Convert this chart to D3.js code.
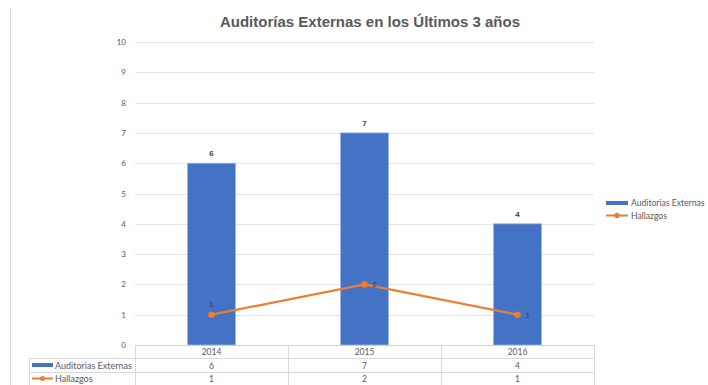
<!DOCTYPE html>
<html><head><meta charset="utf-8">
<script src="https://cdn.jsdelivr.net/npm/d3@7"></script>
<style>body{margin:0;background:#fff;}svg{display:block;font-family:"Liberation Sans",Arial,sans-serif;}</style>
</head><body>
<svg id="c" width="708" height="385"></svg>
<script>
const categories = ["2014", "2015", "2016"];
const auditorias = [6, 7, 4];
const hallazgos = [1, 2, 1];
const yTicks = [0,1,2,3,4,5,6,7,8,9,10];
const seriesNames = ["Auditorias Externas", "Hallazgos"];
const title = "Auditorías Externas en los Últimos 3 años";

const svg = d3.select("#c");
const L = 135, R = 594, T = 42, B = 345;
const x = d3.scaleBand().domain(categories).range([L, R]).padding(0);
const y = d3.scaleLinear().domain([0, 10]).range([B, T]);
const blue = "#4472C4", orange = "#ED7D31", grid = "#d9d9d9", txt = "#595959";
const tableFont = "Lato, 'Open Sans', sans-serif";

// left border line
svg.append("line").attr("x1",10.5).attr("x2",10.5).attr("y1",8).attr("y2",385).attr("stroke",grid);

// title
svg.append("text").attr("x",370).attr("y",27).attr("text-anchor","middle")
  .attr("font-size",15).attr("font-weight","bold").attr("fill","#595959").text(title);

// gridlines
svg.append("g").selectAll("line").data(yTicks.filter(d=>d>0)).join("line")
  .attr("x1",L).attr("x2",R).attr("y1",d=>Math.round(y(d))+0.5).attr("y2",d=>Math.round(y(d))+0.5)
  .attr("stroke","#e3e3e3").attr("stroke-width",1.2);

// y axis labels
const yAxis = d3.axisLeft(y).tickValues(yTicks).tickSize(0).tickPadding(0);
const ya = svg.append("g").attr("transform",`translate(126,0)`).call(yAxis);
ya.select(".domain").remove();
ya.selectAll("text").attr("font-size",8).attr("fill",txt).attr("font-family",tableFont);

// bars
const bw = x.bandwidth()*0.314;
svg.append("g").selectAll("rect").data(auditorias).join("rect")
  .attr("x",(d,i)=>x(categories[i])+x.bandwidth()/2-bw/2)
  .attr("y",d=>y(d)).attr("width",bw).attr("height",d=>B-y(d))
  .attr("fill",blue).attr("stroke","#9db5e3").attr("stroke-width",0.8);

// bar labels
svg.append("g").selectAll("text").data(auditorias).join("text")
  .attr("x",(d,i)=>x(categories[i])+x.bandwidth()/2)
  .attr("y",d=>y(d)-7).attr("text-anchor","middle")
  .attr("font-size",8).attr("font-weight","bold").attr("fill","#404040").text(d=>d);

// line
const cx = i => x(categories[i])+x.bandwidth()/2;
svg.append("path").datum(hallazgos)
  .attr("d", d3.line().x((d,i)=>cx(i)).y(d=>y(d)))
  .attr("fill","none").attr("stroke",orange).attr("stroke-width",2.2);
svg.append("g").selectAll("circle").data(hallazgos).join("circle")
  .attr("cx",(d,i)=>cx(i)).attr("cy",d=>y(d)).attr("r",3.3).attr("fill",orange);
svg.append("g").selectAll("text").data(hallazgos).join("text")
  .attr("x",(d,i)=> i===0 ? cx(i) : cx(i)+8)
  .attr("y",(d,i)=> i===0 ? y(d)-8 : y(d)+3)
  .attr("text-anchor",(d,i)=> i===0 ? "middle" : "start")
  .attr("font-size",8).attr("fill","#404040").text(d=>d);

// data table
const tg = svg.append("g").attr("stroke",grid).attr("stroke-width",1);
tg.append("line").attr("x1",L).attr("x2",R).attr("y1",345.5).attr("y2",345.5).attr("stroke","#d0d0d0");
[358.5, 372.5].forEach(yy=>tg.append("line").attr("x1",29).attr("x2",R).attr("y1",yy).attr("y2",yy));
tg.append("line").attr("x1",29.5).attr("x2",29.5).attr("y1",358.5).attr("y2",385);
[L, x("2015"), x("2016"), R].forEach(xx=>tg.append("line").attr("x1",Math.round(xx)+0.5).attr("x2",Math.round(xx)+0.5).attr("y1",345).attr("y2",385));

svg.append("g").selectAll("text").data(categories).join("text")
  .attr("x",d=>x(d)+x.bandwidth()/2).attr("y",355).attr("text-anchor","middle")
  .attr("font-size",8.5).attr("fill",txt).attr("font-family",tableFont).text(d=>d);
svg.append("g").selectAll("text").data(auditorias).join("text")
  .attr("x",(d,i)=>cx(i)).attr("y",368.5).attr("text-anchor","middle")
  .attr("font-size",8.5).attr("fill",txt).attr("font-family",tableFont).text(d=>d);
svg.append("g").selectAll("text").data(hallazgos).join("text")
  .attr("x",(d,i)=>cx(i)).attr("y",382).attr("text-anchor","middle")
  .attr("font-size",8.5).attr("fill",txt).attr("font-family",tableFont).text(d=>d);
svg.append("rect").attr("x",32).attr("y",363).attr("width",21).attr("height",4).attr("fill",blue);
svg.append("text").attr("x",55).attr("y",368.5).attr("font-size",9).attr("fill",txt).attr("font-family",tableFont).text(seriesNames[0]);
svg.append("line").attr("x1",32).attr("x2",53).attr("y1",378.5).attr("y2",378.5).attr("stroke",orange).attr("stroke-width",2);
svg.append("circle").attr("cx",42.5).attr("cy",378.5).attr("r",2.5).attr("fill",orange);
svg.append("text").attr("x",55).attr("y",382).attr("font-size",9).attr("fill",txt).attr("font-family",tableFont).text(seriesNames[1]);

// right legend
const lg = svg.append("g");
lg.append("rect").attr("x",606).attr("y",201).attr("width",22).attr("height",4).attr("fill",blue);
lg.append("text").attr("x",631).attr("y",206).attr("font-size",8.6).attr("fill",txt).attr("font-family",tableFont).text(seriesNames[0]);
lg.append("line").attr("x1",606).attr("x2",628).attr("y1",215.5).attr("y2",215.5).attr("stroke",orange).attr("stroke-width",2);
lg.append("circle").attr("cx",617).attr("cy",215.5).attr("r",2.7).attr("fill",orange);
lg.append("text").attr("x",631).attr("y",218.5).attr("font-size",8.6).attr("fill",txt).attr("font-family",tableFont).text(seriesNames[1]);
</script>
</body></html>
